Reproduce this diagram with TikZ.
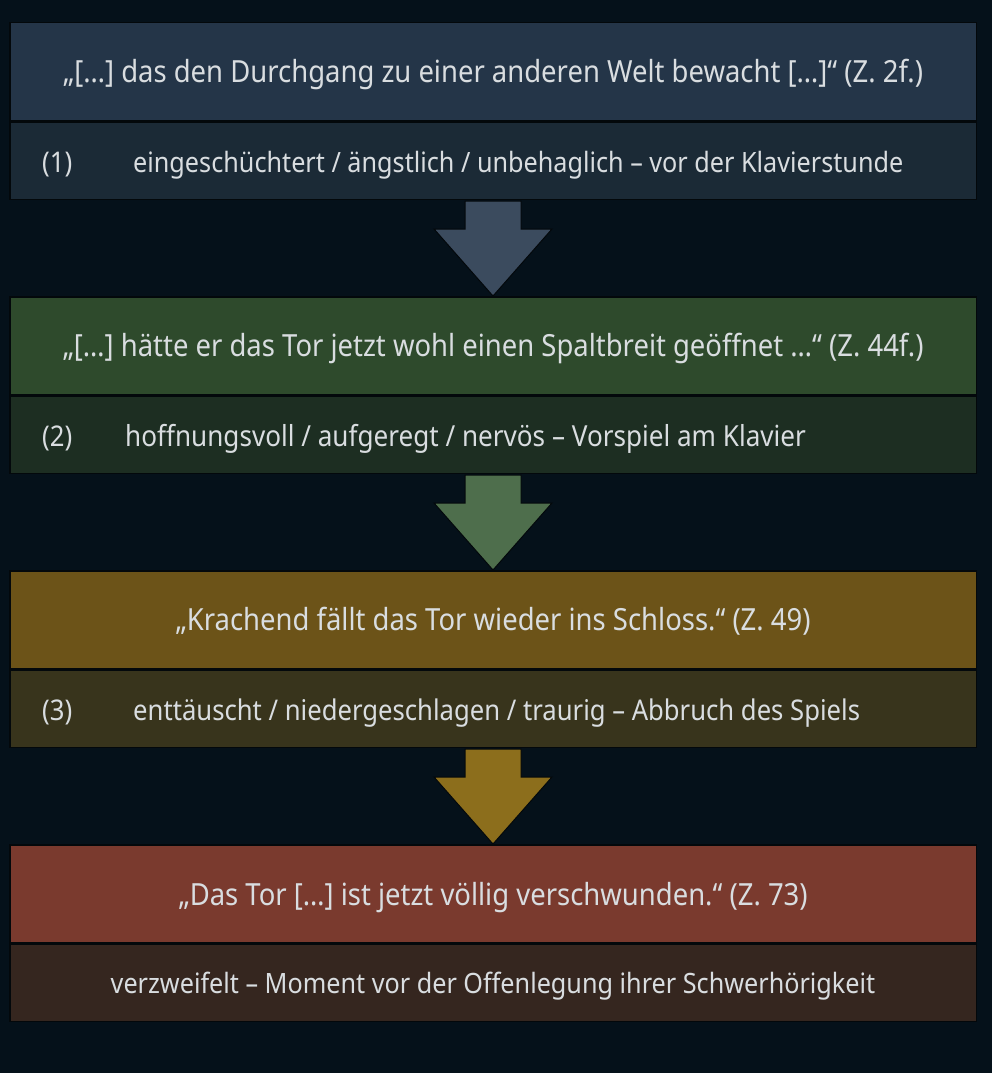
\documentclass[tikz,border=0pt]{standalone}
\usepackage{fontspec}
\setmainfont{Noto Sans}[FakeStretch=0.9]
\usepackage{tikz}
\usetikzlibrary{positioning}
\usetikzlibrary{calc}

\definecolor{hintergrund}{HTML}{05111A}
\definecolor{rahmen}{HTML}{03080B}
\definecolor{schrift}{HTML}{D9DDE0}
\definecolor{blauoben}{HTML}{243548}
\definecolor{blauunten}{HTML}{1B2A36}
\definecolor{blaupfeil}{HTML}{3B4B5E}
\definecolor{gruenoben}{HTML}{2E4A2C}
\definecolor{gruenunten}{HTML}{1D2E22}
\definecolor{gruenpfeil}{HTML}{4E6E4C}
\definecolor{goldoben}{HTML}{6C5318}
\definecolor{goldunten}{HTML}{38341C}
\definecolor{goldpfeil}{HTML}{8C6E1C}
\definecolor{rotoben}{HTML}{7A3A2E}
\definecolor{rotunten}{HTML}{35261F}

\begin{document}
\begin{tikzpicture}[x=1pt, y=1pt,
                zitatbox/.style={rectangle, draw=rahmen, line width=1.5pt, minimum width=966.5pt, minimum height=97.5pt, inner sep=0pt},
                gefuehlbox/.style={rectangle, draw=rahmen, line width=1.5pt, minimum width=966.5pt, minimum height=77.5pt, inner sep=0pt},
                zitattext/.style={anchor=base, inner sep=0pt, text=schrift, font=\fontsize{30.5}{36}\selectfont},
                gefuehltext/.style={anchor=base west, inner sep=0pt, text=schrift, font=\fontsize{28.5}{34}\selectfont},
                blockpfeil/.style={draw=rahmen, line width=1pt},
            ]
            \useasboundingbox[fill=hintergrund] (0,0) rectangle (992,-1073);

            % Nodes
            \node[zitatbox, fill=blauoben, anchor=north west]  (zitat1)   at (9,-22)  {};
            \node[gefuehlbox, fill=blauunten]   (gefuehl1)  [below=0pt of zitat1]   {};
            \node[zitattext]    (quote1) at ($(zitat1.north)+(0,-60)$)  {„[\dots] das den Durchgang zu einer anderen Welt bewacht [\dots]“ (Z. 2f.)};
            \node[gefuehltext]  (nr1)    at ($(gefuehl1.north west)+(33,-51)$)   {(1)};
            \node[gefuehltext, font=\fontsize{28}{34}\selectfont]  (text1)  at ($(gefuehl1.north west)+(124,-51)$)  {eingeschüchtert / ängstlich / unbehaglich – vor der Klavierstunde};

            \node[zitatbox, fill=gruenoben]     (zitat2)    [below=96pt of gefuehl1]  {};
            \node[gefuehlbox, fill=gruenunten]  (gefuehl2)  [below=0pt of zitat2]   {};
            \node[zitattext]    (quote2) at ($(zitat2.north)+(0,-60)$)  {„[\dots] hätte er das Tor jetzt wohl einen Spaltbreit geöffnet \dots“ (Z. 44f.)};
            \node[gefuehltext]  (nr2)    at ($(gefuehl2.north west)+(33,-51)$)   {(2)};
            \node[gefuehltext, font=\fontsize{29}{34}\selectfont]  (text2)  at ($(gefuehl2.north west)+(116,-51)$)  {hoffnungsvoll / aufgeregt / nervös – Vorspiel am Klavier};

            \node[zitatbox, fill=goldoben]      (zitat3)    [below=96pt of gefuehl2]  {};
            \node[gefuehlbox, fill=goldunten]   (gefuehl3)  [below=0pt of zitat3]   {};
            \node[zitattext]    (quote3) at ($(zitat3.north)+(0,-60)$)  {„Krachend fällt das Tor wieder ins Schloss.“ (Z. 49)};
            \node[gefuehltext]  (nr3)    at ($(gefuehl3.north west)+(33,-51)$)   {(3)};
            \node[gefuehltext]  (text3)  at ($(gefuehl3.north west)+(124,-51)$)  {enttäuscht / niedergeschlagen / traurig – Abbruch des Spiels};

            \node[zitatbox, fill=rotoben]       (zitat4)    [below=96pt of gefuehl3]  {};
            \node[gefuehlbox, fill=rotunten]    (gefuehl4)  [below=0pt of zitat4]   {};
            \node[zitattext]    (quote4) at ($(zitat4.north)+(0,-61)$)  {„Das Tor [\dots] ist jetzt völlig verschwunden.“ (Z. 73)};
            \node[gefuehltext, anchor=base, font=\fontsize{28}{34}\selectfont]  (text4)  at ($(gefuehl4.north)+(0,-50)$)  {verzweifelt – Moment vor der Offenlegung ihrer Schwerhörigkeit};

            %Lines
            \draw[blockpfeil, fill=blaupfeil] ($(gefuehl1.south)+(-28,-1)$) -- ($(gefuehl1.south)+(-28,-29)$) -- ($(gefuehl1.south)+(-59,-29)$) -- (zitat2.north) -- ($(gefuehl1.south)+(59,-29)$) -- ($(gefuehl1.south)+(28,-29)$) -- ($(gefuehl1.south)+(28,-1)$) -- cycle;
            \draw[blockpfeil, fill=gruenpfeil] ($(gefuehl2.south)+(-28,-1)$) -- ($(gefuehl2.south)+(-28,-29)$) -- ($(gefuehl2.south)+(-59,-29)$) -- (zitat3.north) -- ($(gefuehl2.south)+(59,-29)$) -- ($(gefuehl2.south)+(28,-29)$) -- ($(gefuehl2.south)+(28,-1)$) -- cycle;
            \draw[blockpfeil, fill=goldpfeil] ($(gefuehl3.south)+(-28,-1)$) -- ($(gefuehl3.south)+(-28,-29)$) -- ($(gefuehl3.south)+(-59,-29)$) -- (zitat4.north) -- ($(gefuehl3.south)+(59,-29)$) -- ($(gefuehl3.south)+(28,-29)$) -- ($(gefuehl3.south)+(28,-1)$) -- cycle;
        \end{tikzpicture}
\end{document}
